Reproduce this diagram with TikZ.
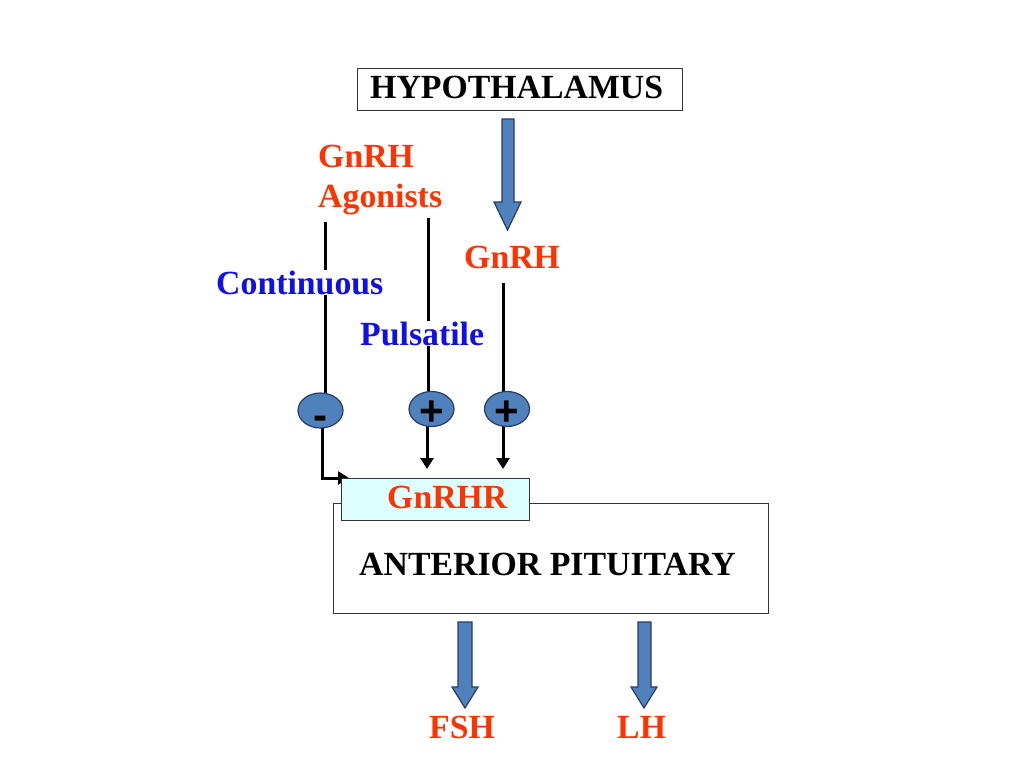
\documentclass[tikz,border=0pt]{standalone}
\usepackage{fontspec}
\setmainfont{Liberation Serif}
\newfontfamily\signfont{Liberation Sans}
\usetikzlibrary{arrows.meta,shapes.geometric}
\pgfdeclarelayer{bg}
\pgfsetlayers{bg,main}
\definecolor{hred}{RGB}{255,51,0}
\definecolor{hblue}{RGB}{16,16,230}
\definecolor{arrfill}{RGB}{79,129,189}
\definecolor{arrdraw}{RGB}{40,60,100}
\definecolor{rcyan}{RGB}{221,255,255}
\tikzset{
  lbl/.style={font=\fontsize{33.8}{38}\selectfont\bfseries, inner sep=0pt, anchor=base west},
  redtxt/.style={lbl, text=hred},
  bluetxt/.style={lbl, text=hblue, fill=white, inner sep=1pt},
  box/.style={draw=black!80, line width=0.8pt},
  sign/.style={ellipse, draw=arrdraw, line width=1.2pt, fill=arrfill, minimum width=45pt, minimum height=35pt, inner sep=0pt},
  signtxt/.style={inner sep=0pt, font=\signfont\fontsize{42}{42}\selectfont\bfseries},
  conn/.style={line width=3pt, black},
  tipconn/.style={conn, -{Triangle[length=11pt,width=13pt]}},
  blk/.style={fill=arrfill, draw=arrdraw, line width=1.2pt, line join=miter},
}
\begin{document}
\begin{tikzpicture}[x=1pt,y=-1pt]
\useasboundingbox (0,0) rectangle (1024,768);
% boxes
\draw[box] (357,68) rectangle (682,110);
\node[lbl] (hyp) at (370,98) {HYPOTHALAMUS};
\draw[box] (333,503) rectangle (768,613);
\node[lbl] (ap) at (359,575) {ANTERIOR PITUITARY};
\node[draw=black!80, line width=0.8pt, fill=rcyan, minimum width=188pt, minimum height=42pt, inner sep=0pt] (gnrhr) at (435,499) {};
\node[redtxt] (gnrhrtxt) at (387,508) {GnRHR};
% block arrows
\draw[blk] (502,119) -- (514,119) -- (514,202) -- (521,202) -- (507.5,230) -- (494,202) -- (502,202) -- cycle;
\draw[blk] (458,622) -- (472,622) -- (472,687) -- (478,687) -- (465,708) -- (452,687) -- (458,687) -- cycle;
\draw[blk] (638,622) -- (651,622) -- (651,687) -- (657,687) -- (644,708) -- (631,687) -- (638,687) -- cycle;
% texts
\node[redtxt] (ag1) at (318,167) {GnRH};
\node[redtxt] (ag2) at (318,207) {Agonists};
\node[redtxt] (gnrh) at (464,268) {GnRH};
\node[bluetxt] (cont) at (215,294) {Continuous};
\node[bluetxt] (puls) at (359,345) {Pulsatile};
\node[redtxt] (fsh) at (429,738) {FSH};
\node[redtxt] (lh) at (617,738) {LH};
% sign circles
\node[sign] (m) at (320.5,410.5) {};
\node[sign] (p1) at (431.5,409) {};
\node[sign] (p2) at (507,409) {};
\node[signtxt] (ms) at (320.5,423) {-};
\node[signtxt] (p1s) at (431.5,413) {+};
\node[signtxt] (p2s) at (507,413) {+};
% connector ends
\coordinate (c1) at (325,222);
\coordinate (c2) at (428,218);
\coordinate (c3) at (503,283);
\coordinate (t1) at (349,478);
\coordinate (t2) at (427,469);
\coordinate (t3) at (503,469);
\begin{pgfonlayer}{bg}
\draw[conn] (c1) -- (c1 |- m);
\draw[conn] (c2) -- (c2 |- p1);
\draw[conn] (c3) -- (c3 |- p2);
\draw[tipconn] (322,410) -- (322,478) -- (t1);
\draw[tipconn] (t2 |- p1) -- (t2);
\draw[tipconn] (t3 |- p2) -- (t3);
\end{pgfonlayer}
\end{tikzpicture}
\end{document}
